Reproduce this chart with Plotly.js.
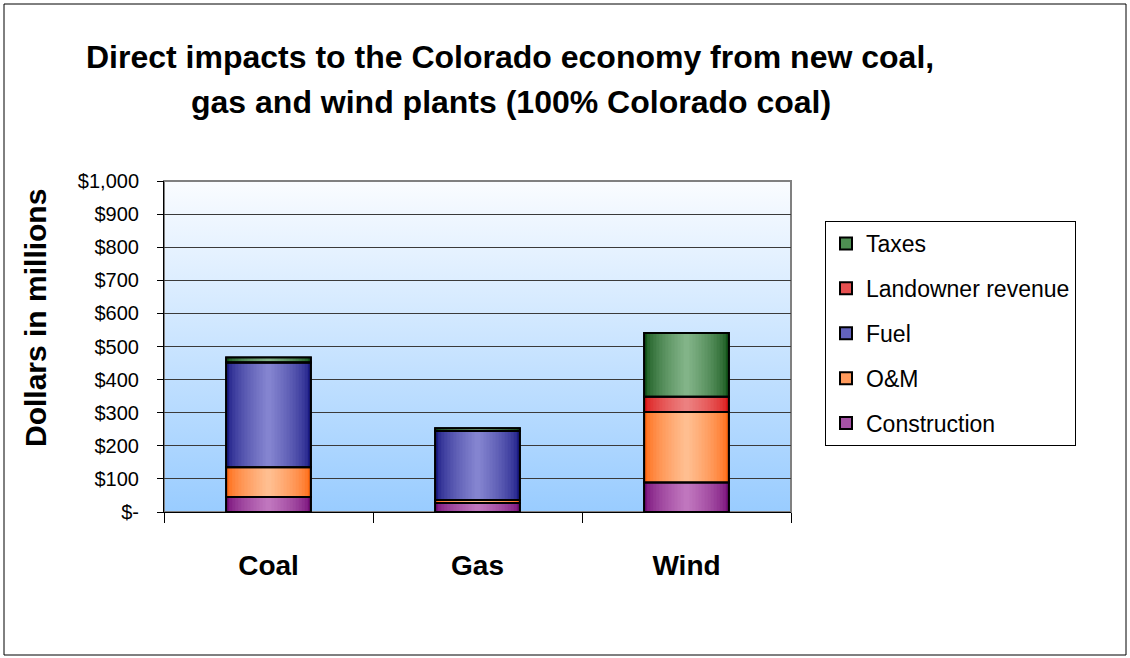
<!DOCTYPE html>
<html>
<head>
<meta charset="utf-8">
<script src="https://cdn.plot.ly/plotly-3.0.1.min.js"></script>
<style>
  html, body { margin: 0; padding: 0; background: #ffffff; }
  #chart { width: 1130px; height: 658px; }
</style>
</head>
<body>
<div id="chart"></div>
<script>
// ---- data ----
const categories = ['Coal', 'Gas', 'Wind'];
const construction = [45, 27, 89];
const oAndM = [90, 9, 213];
const fuel = [317, 209, 0];
const landowner = [0, 0, 46];
const taxes = [15, 8, 193];
const seriesNames = ['Construction', 'O&M', 'Fuel', 'Landowner revenue', 'Taxes'];
const yTickVals = [0, 100, 200, 300, 400, 500, 600, 700, 800, 900, 1000];
const yTickText = ['$-', '$100', '$200', '$300', '$400', '$500', '$600', '$700', '$800', '$900', '$1,000'];
const titleLine1 = 'Direct impacts to the Colorado economy from new coal,';
const titleLine2 = 'gas and wind plants (100% Colorado coal)';
const yTitle = 'Dollars in millions';

// ---- styles ----
const seriesValues = [construction, oAndM, fuel, landowner, taxes];
const edgeColors = ['#78107a', '#ff6a14', '#1c1c86', '#dc1818', '#14561a'];
const centerColors = ['#c076be', '#ffbe90', '#8484d0', '#ec8080', '#82b488'];
const midColors = ['#a452a4', '#ff9a5c', '#6262bc', '#e65050', '#4e8e52'];
const barWidth = 0.405;
const N = 14;
const FONT = 'Liberation Sans, Arial, sans-serif';

function hex2rgb(h) { return [parseInt(h.substr(1,2),16), parseInt(h.substr(3,2),16), parseInt(h.substr(5,2),16)]; }
function lerp(a, b, t) {
  const A = hex2rgb(a), B = hex2rgb(b);
  return 'rgb(' + A.map((v, i) => Math.round(v + (B[i] - v) * t)).join(',') + ')';
}

// cumulative bases for stacking
const bases = [];
let running = categories.map(() => 0);
seriesValues.forEach(vals => {
  bases.push(running.slice());
  running = running.map((r, i) => r + vals[i]);
});

const baseTraces = [], gradTraces = [], outlineTraces = [];
seriesValues.forEach((vals, s) => {
  // legend-carrying base bar (fully covered by the gradient layers)
  baseTraces.unshift({
    type: 'bar', x: categories, y: vals, base: bases[s], width: barWidth,
    name: seriesNames[s], legendgroup: seriesNames[s], showlegend: true,
    marker: { color: midColors[s], line: { color: '#000', width: 2 } },
    hoverinfo: 'skip'
  });
  for (let k = 0; k < N; k++) {
    const frac = k / (N - 1);
    const t = Math.min(1, Math.pow(frac, 0.65));
    gradTraces.push({
      type: 'bar', x: categories, y: vals, base: bases[s], width: barWidth * (1 - k / N),
      legendgroup: seriesNames[s], showlegend: false,
      marker: { color: lerp(edgeColors[s], centerColors[s], t), line: { width: 0 } },
      hoverinfo: 'skip'
    });
  }
  outlineTraces.push({
    type: 'bar', x: categories, y: vals, base: bases[s], width: barWidth,
    legendgroup: seriesNames[s], showlegend: false,
    marker: { color: 'rgba(0,0,0,0)', line: { color: '#000', width: 2 } },
    hoverinfo: 'skip'
  });
});

const bgSvg = '<svg xmlns="http://www.w3.org/2000/svg" width="100" height="100" preserveAspectRatio="none">' +
  '<defs><linearGradient id="g" x1="0" y1="0" x2="0" y2="1">' +
  '<stop offset="0" stop-color="#fafcff"/><stop offset="1" stop-color="#99ccff"/>' +
  '</linearGradient></defs><rect width="100" height="100" fill="url(#g)"/></svg>';

const L = 164, R = 791, T = 181, B = 512;
const PW = R - L, PH = B - T;
const px = x => (x - L) / PW;
const py = y => (B - y) / PH;

const layout = {
  width: 1130, height: 658,
  margin: { l: L, r: 1130 - R, t: T, b: 658 - B, pad: 0 },
  paper_bgcolor: '#ffffff',
  plot_bgcolor: 'rgba(0,0,0,0)',
  barmode: 'overlay',
  showlegend: true,
  font: { family: FONT, color: '#000' },
  images: [{
    source: 'data:image/svg+xml;charset=utf-8,' + encodeURIComponent(bgSvg),
    xref: 'paper', yref: 'paper', x: 0, y: 1, sizex: 1, sizey: 1,
    xanchor: 'left', yanchor: 'top', sizing: 'stretch', layer: 'below'
  }],
  xaxis: {
    type: 'category', range: [-0.5, 2.5], tickson: 'boundaries',
    ticks: 'outside', ticklen: 10, tickcolor: '#000', tickwidth: 1,
    showline: true, linecolor: '#000', linewidth: 1,
    showgrid: false, zeroline: false, fixedrange: true,
    ticklabelstandoff: 28,
    tickfont: { family: FONT, size: 28, weight: 'bold', color: '#000' }
  },
  yaxis: {
    range: [0, 1000], tickmode: 'array', tickvals: yTickVals, ticktext: yTickText,
    ticks: 'outside', ticklen: 6, tickcolor: '#000', tickwidth: 1,
    showline: true, linecolor: '#000', linewidth: 1,
    showgrid: true, gridcolor: '#3a3a3a', gridwidth: 1, zeroline: false, fixedrange: true,
    ticklabelstandoff: 14,
    tickfont: { family: FONT, size: 20, color: '#000' }
  },
  legend: {
    x: px(825), y: py(221), xanchor: 'left', yanchor: 'top',
    bgcolor: '#ffffff', bordercolor: '#000', borderwidth: 1,
    traceorder: 'grouped', tracegroupgap: 12,
    font: { family: FONT, size: 23, color: '#000' },
    itemwidth: 30
  },
  annotations: [
    { text: titleLine1, xref: 'paper', yref: 'paper', x: px(510), y: py(57), xanchor: 'center', yanchor: 'middle',
      showarrow: false, font: { family: FONT, size: 32, weight: 'bold', color: '#000' } },
    { text: titleLine2, xref: 'paper', yref: 'paper', x: px(511), y: py(102), xanchor: 'center', yanchor: 'middle',
      showarrow: false, font: { family: FONT, size: 32, weight: 'bold', color: '#000' } },
    { text: yTitle, xref: 'paper', yref: 'paper', x: px(35), y: py(318), xanchor: 'center', yanchor: 'middle',
      textangle: -90, showarrow: false, font: { family: FONT, size: 30, weight: 'bold', color: '#000' } }
  ],
  shapes: [
    { type: 'rect', xref: 'paper', yref: 'paper', x0: 0, x1: 1, y0: 0, y1: 1,
      line: { color: '#808080', width: 2 }, layer: 'below' },
    { type: 'rect', xref: 'paper', yref: 'paper', x0: px(4), x1: px(1126), y0: py(655), y1: py(4),
      line: { color: '#000', width: 1 }, layer: 'below' }
  ]
};

Plotly.newPlot('chart', baseTraces.concat(gradTraces, outlineTraces), layout, { displayModeBar: false, staticPlot: true });
</script>
</body>
</html>
